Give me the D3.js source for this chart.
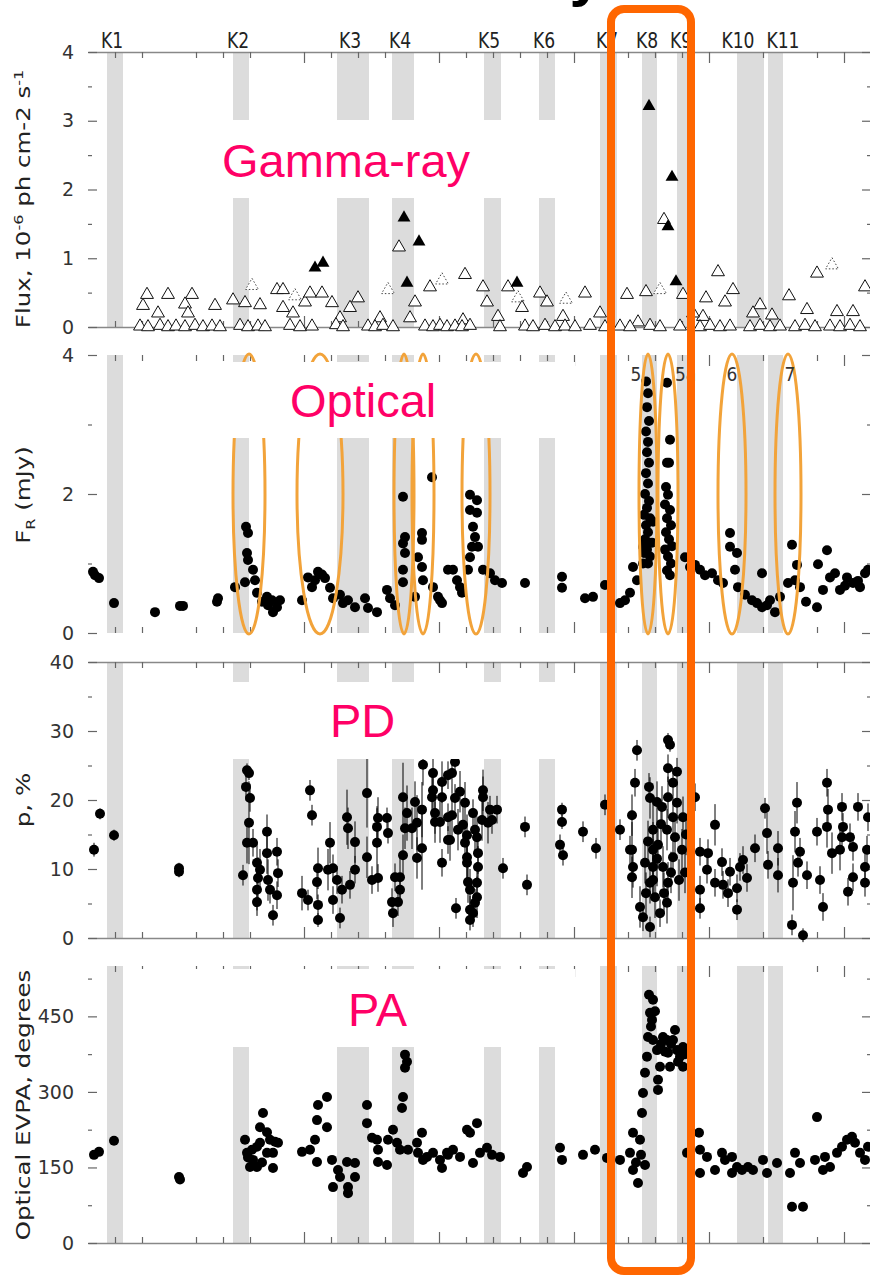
<!DOCTYPE html>
<html>
<head>
<meta charset="utf-8">
<script src="https://d3js.org/d3.v7.min.js"></script>
<style>
body { margin:0; background:white; }
svg { display:block; }
.tick text { font-family:"DejaVu Sans", sans-serif; font-size:19px; fill:#333; }
</style>
</head>
<body>
<svg width="870" height="1277"></svg>
<script>
// time axis: days since start of the campaign
var xTickDays = [27,54,108,135,162,216,243,270,297,351,378,405,432,459,486,540,567,594,621,675,729,756];
var xMajorDays = [216,351,486,621,756];

// shaded K intervals [start, end] and where their label sits
var kNames = ["K1","K2","K3","K4","K5","K6","K7","K8","K9","K10","K11"];
var kBands = [[19,35],[145,161],[249,281],[304,326],[396,413],[451,467],[512,529],[554,569],[589,602],[649,676],[680,695]];
var kLabelDay = [24,150,262,312,401,456,519,559,593,650,695];

// gamma-ray flux, 1e-6 ph cm-2 s-1
var gammaDet = [[227,.86],[235,.93],[316,1.59],[331,1.24],[319,.64],[429,.64],[561,3.21],[584,2.18],[580,1.46],[588,.66]];
var gammaOpen = [[59,.47],[80,.47],[104,.47],[55,.31],[97,.33],[100,.2],[70,.2],[127,.31],[145,.39],[157,.35],[172,.32],
  [189,.54],[195,.54],[195,.28],[205,.2],[217,.36],[222,.49],[234,.49],[244,.35],[252,.13],[262,.28],[270,.42],[292,.13],
  [311,1.16],[322,.13],[327,.36],[342,.58],[377,.76],[395,.58],[399,.36],[420,.58],[434,.28],[452,.49],[459,.36],[497,.49],
  [539,.47],[558,.51],[576,1.56],[595,.47],[630,.8],[618,.42],[645,.54],[637,.36],[672,.32],[701,.45],[729,.78],[777,.58],
  [719,.25],[749,.22],[765,.22],[665,.2],[684,.17],[512,.2],[475,.15],[410,.15],[375,.1],[615,.15],[605,.2],[550,.07],
  [52,.01],[60,0],[72,.02],[80,0],[88,.01],[97,0],[107,.02],[115,0],[124,.01],[132,0],[152,.02],[160,0],[170,.01],[177,0],
  [202,.02],[212,0],[224,.01],[248,.03],[255,0],[280,.01],[287,0],[295,.02],[305,0],[337,.01],[345,0],[352,.02],[359,0],
  [367,.01],[374,0],[382,.02],[412,0],[437,.01],[445,0],[457,.02],[467,0],[477,.01],[487,0],[502,.02],[517,0],[532,.01],
  [542,0],[562,.02],[572,0],[592,.01],[612,0],[622,.02],[632,0],[642,.01],[662,0],[672,.02],[682,0],[692,.01],[707,0],
  [717,.02],[727,0],[742,.01],[752,0],[762,.02],[772,0]];
var gammaLimit = [[164,.6],[300,.54],[354,.68],[572,.54],[744,.9],[207,.45],[430,.42],[478,.4]];

// optical R-band flux, mJy
var optFlux = [[7,.83],[11,.79],[5,.88],[26,.43],[67,.30],[92,.39],[95,.39],[129,.45],[130,.5],
  [147,.66],[158,1.53],[160,1.44],[159,1.15],[160,1.05],[165,.91],[167,.76],[157,.73],[169,.58],[179,.52],[180,.40],
  [184,.47],[189,.37],[192,.47],[185,.30],[174,.45],
  [214,.47],[220,.80],[224,.66],[230,.88],[227,.76],[237,.79],[242,.65],[245,.50],[252,.55],[255,.43],[260,.47],
  [267,.37],[277,.50],[280,.36],[289,.30],[234,.84],
  [299,.62],[302,.50],[307,.40],[315,1.96],[317,1.38],[315,1.29],[317,1.15],[315,.91],[315,.73],[327,.52],[334,1.44],
  [334,1.34],[330,1.09],[334,.95],[335,.76],[344,2.24],[345,.66],[352,.47],[360,.91],[350,.52],[354,.43],[365,.91],
  [369,.76],[372,.66],[374,.58],
  [382,1.99],[389,1.91],[382,1.77],[389,1.73],[385,1.53],[387,1.38],[384,1.24],[390,1.24],[382,1.09],[380,.91],
  [395,.91],[402,.86],[407,.76],[414,.72],[437,.72],[474,.81],[474,.65],[497,.50],[505,.52],[517,.69],[532,.43],
  [537,.47],[542,.58],[545,.95],[549,.76],[555,1.24],
  [558,3.62],[560,3.45],[559,3.25],[561,3.05],[558,2.9],[560,2.75],[559,2.6],[561,2.45],[558,2.3],[560,2.15],[557,2.0],
  [561,1.9],[559,1.8],[556,1.7],[562,1.65],[558,1.55],[560,1.45],[557,1.35],[561,1.3],[559,1.2],[556,1.15],[562,1.1],
  [555,1.0],[560,1.0],[565,1.6],[564,1.3],
  [579,3.6],[582,2.78],[581,2.45],[579,2.45],[578,2.1],[580,1.99],[577,1.85],[582,1.77],[579,1.65],[583,1.55],[578,1.45],
  [581,1.35],[584,1.25],[577,1.2],[580,1.1],[583,1.0],[579,.9],[582,.83],[597,1.09],[602,.95],
  [612,.91],[617,.83],[624,.86],[630,.76],[607,.98],[635,.72],
  [642,1.44],[642,1.24],[649,1.15],[647,.91],[650,.66],[657,.55],[664,.47],[669,.43],[674,.37],[679,.40],[674,.86],
  [687,.30],[682,.47],[692,.52],
  [704,1.27],[709,.98],[707,.76],[700,.72],[712,.66],[718,.45],[729,.37],[730,.99],[739,1.19],[742,.8],[747,.86],
  [752,.62],[759,.8],[765,.72],[772,.66],[777,.86],[780,.91],[770,.75],[757,.68],[735,.62]];

// optical polarization degree, % : [day, p, error]
var polDeg = [[6,12.8,1],[12,18.0,.8],[26,14.9,.8],[91,10.1,.8],[91,9.6,.8],
  [159,24.3,1],[161,23.9,1],[158,21.9,2],[162,20.3,2],[161,16.7,6],[159,13.8,3],[165,13.8,2],[155,9.1,1.5],[169,10.9,3],
  [179,15.4,2.5],[179,12.3,3],[172,9.9,3],[170,8.7,3],[169,7.0,3],[169,5.2,2],[180,8.4,3],[182,7.0,2],[189,12.5,2],
  [190,9.4,2],[189,6.2,2],[185,3.3,1.5],
  [214,6.5,2.5],[220,5.5,1.5],[222,21.4,1.5],[224,17.8,1.5],[229,8.1,2.5],[230,4.8,1.5],[230,2.6,1],[230,10.1,3],
  [242,13.8,3],[240,9.9,3],[245,10.1,2],[245,5.5,2],[249,8.4,2],[252,2.9,1.5],[254,7.0,2],[259,17.5,4],[260,15.9,3],
  [262,7.7,2],[267,13.9,3],[267,9.9,2],[279,21.0,5],[279,11.7,3],[284,8.4,2],[290,17.4,3],[289,16.1,3],[289,13.8,5],
  [290,8.7,2],[299,17.4,1.5],[300,15.2,1.5],
  [304,5.2,2],[305,3.6,2],[307,8.8,2],[312,8.8,3],[312,7.0,2],[310,5.2,2],[315,12.0,3],[315,20.4,5],[319,18.1,4],
  [317,15.9,3],[324,15.9,3],[327,19.7,3],[329,16.7,4],[329,11.6,3],[334,18.6,4],[334,13.0,6],[335,25.1,3],
  [345,23.9,3],[345,21.4,3],[344,20.4,3],[347,18.1,3],[347,16.8,3],[354,20.4,3],[352,16.8,3],[354,22.6,3],[354,10.9,2],
  [360,23.6,2],[360,17.5,2],[360,14.2,2],[362,14.2,3],[364,17.8,3],[364,23.9,3],[367,20.3,2],[367,25.5,2],[372,21.2,3],
  [377,19.6,3],[370,15.7,3],[375,16.4,3],[385,18.1,2],[379,14.9,3],[377,13.8,3],[379,11.7,3],[379,10.9,3],[380,8.1,3],
  [382,7.0,3],[387,15.7,3],[389,14.6,3],[390,12.3,3],[390,10.3,3],[389,8.0,3],[389,5.9,3],[387,5.1,2],[382,4.1,2],
  [382,2.6,1.5],[385,3.6,2],[368,4.3,1.5],[394,17.1,3],[395,21.4,3],[395,20.4,3],[402,18.6,2],[400,16.7,3],[404,17.1,2],
  [409,18.6,2],[415,10.1,1.5],[437,16.1,1.5],[439,7.7,1.5],
  [474,18.6,1],[474,16.8,1],[472,13.5,1.5],[475,12.0,1.5],[495,15.4,1.5],[508,13.0,1.5],[517,19.3,1.5],[532,15.7,1.5],
  [549,27.2,1.5],[547,22.5,2],[544,17.8,3],[544,12.8,4],[544,8.8,3],[552,4.5,3],[555,3.0,2],[562,1.6,1.5],[561,21.9,2],
  [562,20.3,3],[569,19.7,3],[565,15.7,4],[565,12.8,4],[565,10.3,4],[562,8.0,3],[567,5.9,3],[572,3.6,2],[580,28.7,1],
  [582,28.0,1],[580,24.6,2],[589,24.1,2],[585,22.5,2],[580,20.4,3],[589,19.6,3],[585,17.5,3],[579,15.7,3],[587,14.6,3],
  [595,17.5,3],[594,12.8,3],[585,11.7,3],[575,10.3,3],[580,8.0,3],[579,5.1,3],[565,8.4,3],[557,10.9,3],[545,10.3,3],
  [542,12.8,2],[591,8.4,3],[570,13.5,3],[573,16.5,3],[560,14,3],[576,6.5,3],[583,9.5,3],[558,6.5,3],[569,11.5,4],
  [574,19,3],[598,15,3],[597,9.5,3],
  [607,20.4,2],[612,12.5,2],[612,7.0,2],[612,4.3,1.5],[620,12.3,2],[619,9.9,2],[627,16.4,3],[627,8.0,2],[634,11.0,2],
  [635,7.7,2],[640,6.5,2],[642,9.6,2],[649,7.2,2],[649,4.1,1.5],[652,10.3,2],[655,11.3,2],[659,8.7,2],[667,13.0,2],
  [677,18.8,1.5],[679,15.2,3],[680,10.6,2],[690,13.0,2.5],[690,9.1,2.5],[704,1.9,1.5],[705,8.0,4],[709,19.6,3],
  [707,15.4,3],[712,12.5,2],[710,10.9,2],[715,.4,1],[719,9.1,2],[729,15.4,2],[732,8.4,2],[735,4.5,2],[739,22.5,2],
  [740,18.6,3],[739,16.1,3],[744,12.3,3],[754,19.0,2],[755,16.1,2],[754,14.6,2],[752,12.8,3],[762,14.6,2],[765,13.2,2],
  [760,6.7,2],[765,8.8,2],[770,19.0,2],[779,12.8,2],[777,10.3,2],[777,8.0,2],[780,17.5,2]];

// optical EVPA, degrees
var polAng = [[6,175],[11,181],[26,203],[91,131],[92,126],
  [157,205],[159,179],[165,165],[162,151],[169,191],[172,199],[175,258],[172,230],[179,220],[182,205],[179,179],
  [185,179],[187,201],[190,199],[185,149],[169,151],[160,170],[164,185],[174,160],
  [214,181],[222,185],[227,205],[229,244],[230,274],[239,290],[239,230],[229,161],[244,165],[245,111],[250,145],
  [252,131],[259,161],[260,99],[260,111],[267,159],[267,131],[279,274],[279,238],[284,209],[289,205],[290,185],
  [290,161],[299,155],[300,205],[305,225],[309,199],[312,185],[317,374],[319,360],[317,348],[315,290],[314,268],[320,185],
  [329,199],[334,219],[330,179],[335,165],[339,171],[345,179],[352,165],[354,149],[359,179],[360,175],[365,185],[372,171],
  [379,225],[382,219],[389,238],[385,159],[392,179],[399,189],[404,175],[412,171],
  [435,139],[439,151],[472,189],[474,165],[495,175],[507,185],[519,169],[532,165],[542,179],[545,219],[545,145],
  [550,119],[552,205],[554,258],[555,298],[557,338],[559,370],[560,409],[562,457],[561,493],[565,483],[564,443],
  [565,403],[569,383],[570,324],[570,304],[572,350],[575,409],[579,403],[580,378],[582,350],[585,403],[587,423],
  [589,383],[595,389],[595,350],[592,370],[599,179],[557,155],[548,160],[553,175],[563,430],[567,460],[573,395],
  [577,380],[583,395],[590,360],[597,375],
  [611,219],[612,185],[612,139],[619,171],[627,145],[634,179],[637,165],[644,139],[644,171],[649,151],[654,145],
  [660,151],[665,145],[675,165],[679,139],[689,159],[702,139],[707,179],[712,159],[704,72],[715,72],[729,250],
  [727,165],[735,145],[737,171],[742,151],[749,179],[754,191],[759,205],[764,211],[767,199],[772,179],[777,165],[780,191]];

// flare ellipses on the optical panel: [centre day, half width in days], labels
var flareDay = [161,232,316,335,388,560,580,644,700];
var flareHalf = [16,23,10,11,14,9,10,14,13];
var flareNames = [["5",548,"middle"],["5a",587,"start"],["6",644,"middle"],["7",702,"middle"]];

var svg = d3.select("svg");
var x = d3.scaleLinear().domain([0,783]).range([88,871]);

var yGamma = d3.scaleLinear().domain([0,4]).range([327,52]);
var yOpt = d3.scaleLinear().domain([0,4]).range([633,355]);
var yPD = d3.scaleLinear().domain([0,40]).range([938,662]);
var yPA = d3.scaleLinear().domain([0,550]).range([1243,966]);

var panels = [
  {y:yGamma, major:[0,1,2,3,4], minor:[.5,1.5,2.5,3.5], top:true, bottom:true},
  {y:yOpt, major:[0,2,4], minor:[1,3], top:false, bottom:false},
  {y:yPD, major:[0,10,20,30,40], minor:[5,15,25,35], top:true, bottom:true},
  {y:yPA, major:[0,150,300,450], minor:[75,225,375,525], top:false, bottom:true}
];

// shaded intervals
panels.forEach(function(p) {
  svg.append("g").selectAll("rect").data(kBands).enter().append("rect")
    .attr("x", d => x(d[0]))
    .attr("width", d => x(d[1]) - x(d[0]))
    .attr("y", p.y.range()[1])
    .attr("height", p.y.range()[0] - p.y.range()[1])
    .attr("fill", "#dcdcdc");
});

// axes
function styleAxis(g, keepDomain) {
  if (keepDomain) g.select(".domain").attr("stroke", "#888").attr("stroke-width", 1.5);
  else g.select(".domain").remove();
  g.selectAll(".tick line").attr("stroke", "#666").attr("stroke-width", 1.2);
}
panels.forEach(function(p) {
  var y0 = p.y.range()[0], y1 = p.y.range()[1];
  svg.append("g").attr("transform", "translate(0," + y1 + ")")
    .call(d3.axisTop(x).tickValues(xTickDays.filter(d => xMajorDays.indexOf(d) < 0)).tickSizeInner(-6).tickSizeOuter(0).tickFormat(""))
    .call(styleAxis, p.top);
  svg.append("g").attr("transform", "translate(0," + y1 + ")")
    .call(d3.axisTop(x).tickValues(xMajorDays).tickSizeInner(-11).tickSizeOuter(0).tickFormat(""))
    .call(styleAxis, false);
  svg.append("g").attr("transform", "translate(0," + y0 + ")")
    .call(d3.axisBottom(x).tickValues(xTickDays.filter(d => xMajorDays.indexOf(d) < 0)).tickSizeInner(-6).tickSizeOuter(0).tickFormat(""))
    .call(styleAxis, p.bottom);
  svg.append("g").attr("transform", "translate(0," + y0 + ")")
    .call(d3.axisBottom(x).tickValues(xMajorDays).tickSizeInner(-11).tickSizeOuter(0).tickFormat(""))
    .call(styleAxis, false);

  svg.append("g").attr("transform", "translate(88,0)")
    .call(d3.axisLeft(p.y).tickValues(p.major).tickSizeInner(-9).tickSizeOuter(0).tickPadding(14).tickFormat(d3.format("d")))
    .call(styleAxis, false);
  svg.append("g").attr("transform", "translate(88,0)")
    .call(d3.axisLeft(p.y).tickValues(p.minor).tickSizeInner(-4).tickSizeOuter(0).tickFormat(""))
    .call(styleAxis, false);
  svg.append("g").attr("transform", "translate(871,0)")
    .call(d3.axisRight(p.y).tickValues(p.major).tickSizeInner(-9).tickSizeOuter(0).tickFormat(""))
    .call(styleAxis, false);
  svg.append("g").attr("transform", "translate(871,0)")
    .call(d3.axisRight(p.y).tickValues(p.minor).tickSizeInner(-4).tickSizeOuter(0).tickFormat(""))
    .call(styleAxis, false);
});

// gamma-ray triangles
var tri = d3.symbol().type(d3.symbolTriangle).size(72);
svg.append("g").selectAll("path").data(gammaLimit).enter().append("path")
  .attr("d", tri)
  .attr("transform", d => "translate(" + x(d[0]) + "," + yGamma(d[1]) + ")")
  .attr("fill", "white").attr("stroke", "#444").attr("stroke-dasharray", "1.5,2");
svg.append("g").selectAll("path").data(gammaOpen).enter().append("path")
  .attr("d", tri)
  .attr("transform", d => "translate(" + x(d[0]) + "," + yGamma(d[1]) + ")")
  .attr("fill", "white").attr("stroke", "#111").attr("stroke-width", 1);
svg.append("g").selectAll("path").data(gammaDet).enter().append("path")
  .attr("d", tri)
  .attr("transform", d => "translate(" + x(d[0]) + "," + yGamma(d[1]) + ")")
  .attr("fill", "black");

// optical flux
svg.append("g").selectAll("circle").data(optFlux).enter().append("circle")
  .attr("cx", d => x(d[0])).attr("cy", d => yOpt(d[1])).attr("r", 5).attr("fill", "black");

// polarization degree with error bars
svg.append("g").selectAll("line").data(polDeg).enter().append("line")
  .attr("x1", d => x(d[0])).attr("x2", d => x(d[0]))
  .attr("y1", d => yPD(d[1] - d[2])).attr("y2", d => yPD(d[1] + d[2]))
  .attr("stroke", "black").attr("stroke-width", 1);
svg.append("g").selectAll("circle").data(polDeg).enter().append("circle")
  .attr("cx", d => x(d[0])).attr("cy", d => yPD(d[1])).attr("r", 5).attr("fill", "black");

// polarization angle
svg.append("g").selectAll("circle").data(polAng).enter().append("circle")
  .attr("cx", d => x(d[0])).attr("cy", d => yPA(d[1])).attr("r", 5).attr("fill", "black");

// flare ellipses
svg.append("g").selectAll("ellipse").data(flareDay).enter().append("ellipse")
  .attr("cx", d => x(d))
  .attr("cy", yOpt(2))
  .attr("rx", (d, i) => x(flareHalf[i]) - x(0))
  .attr("ry", yOpt(0) - yOpt(2) + 1)
  .attr("fill", "none").attr("stroke", "#f2a33a").attr("stroke-width", 3);
svg.append("g").selectAll("text").data(flareNames).enter().append("text")
  .attr("transform", d => "translate(" + x(d[1]) + "," + yOpt(3.62) + ") scale(0.85,1)")
  .attr("text-anchor", d => d[2])
  .style("font-family", "DejaVu Sans, sans-serif").style("font-size", "20px").attr("fill", "#333")
  .text(d => d[0]);

// white boxes behind the panel names
var boxes = [[120,198],[362,438],[682,759],[969,1047]];
svg.append("g").selectAll("rect").data(boxes).enter().append("rect")
  .attr("x", 128).attr("width", 447)
  .attr("y", d => d[0]).attr("height", d => d[1] - d[0])
  .attr("fill", "white");

// panel names
var names = [["Gamma-ray",222,177],["Optical",290,417],["PD",330,737],["PA",348,1026]];
svg.append("g").selectAll("text").data(names).enter().append("text")
  .attr("x", d => d[1]).attr("y", d => d[2])
  .style("font-family", "Liberation Sans, Arial, sans-serif").style("font-size", "47px")
  .attr("fill", "#ff0066")
  .text(d => d[0]);

// K labels
svg.append("g").selectAll("text").data(kNames).enter().append("text")
  .attr("transform", (d, i) => "translate(" + x(kLabelDay[i]) + ",48) scale(0.78,1)")
  .attr("text-anchor", "middle")
  .style("font-family", "DejaVu Sans, sans-serif").style("font-size", "22px").attr("fill", "#222")
  .text(d => d);

// y axis titles
function yTitle(cy) {
  return svg.append("text")
    .attr("transform", "translate(30," + cy + ") scale(0.8,1) rotate(-90)")
    .attr("text-anchor", "middle")
    .style("font-family", "DejaVu Sans, sans-serif").style("font-size", "24.5px").attr("fill", "#222");
}
var t1 = yTitle(199);
t1.append("tspan").text("Flux, 10");
t1.append("tspan").attr("dy", -9).style("font-size", "16px").text("-6");
t1.append("tspan").attr("dy", 9).text(" ph cm-2 s");
t1.append("tspan").attr("dy", -9).style("font-size", "16px").text("-1");
var t2 = yTitle(495);
t2.append("tspan").text("F");
t2.append("tspan").attr("dy", 6).style("font-size", "16px").text("R");
t2.append("tspan").attr("dy", -6).text(" (mJy)");
yTitle(800).text("p, %");
yTitle(1105).text("Optical EVPA, degrees");

// slide title, mostly above the picture
svg.append("text")
  .attr("x", 603).attr("y", -5)
  .attr("text-anchor", "end")
  .style("font-family", "Liberation Sans, Arial, sans-serif").style("font-size", "60px").style("font-weight", "bold")
  .attr("fill", "black")
  .text("Variability");

// highlight box
svg.append("rect")
  .attr("x", x(523)).attr("y", 9)
  .attr("width", x(603) - x(523)).attr("height", 1262)
  .attr("rx", 13)
  .attr("fill", "none").attr("stroke", "#ff6600").attr("stroke-width", 8);
</script>
</body>
</html>
